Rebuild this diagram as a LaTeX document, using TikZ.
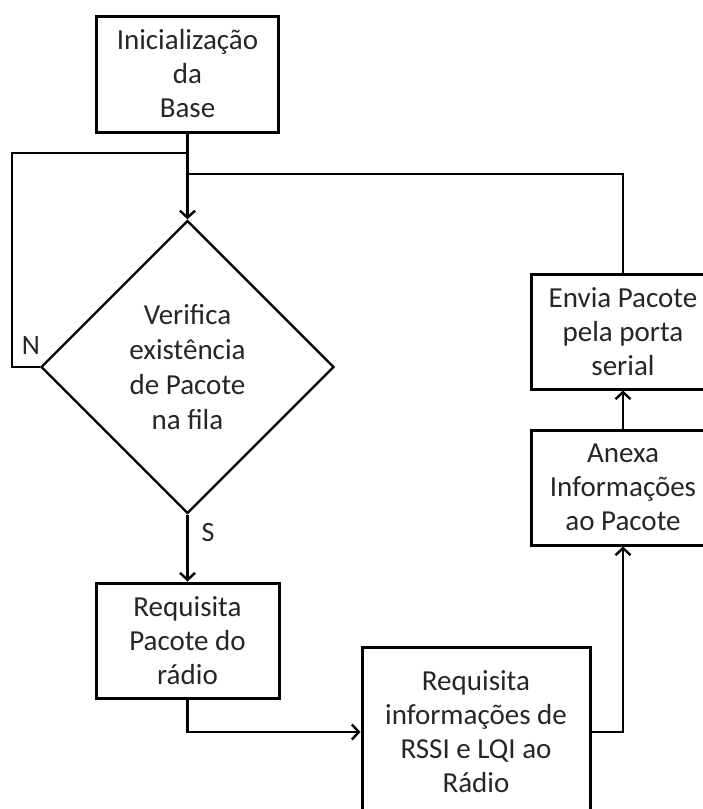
\documentclass[tikz,border=0pt]{standalone}
\usepackage{fontspec}
\setmainfont{Carlito}
\usetikzlibrary{arrows.meta,shapes.geometric}
\begin{document}
\begin{tikzpicture}[x=1pt,y=-1pt,
  box/.style={draw=black,line width=3pt,rectangle,inner sep=0pt,align=center,
    font=\fontsize{29}{34}\selectfont,text=black!85},
  dec/.style={draw=black,line width=2.4pt,diamond,aspect=1,inner sep=0pt,
    minimum width=293pt,minimum height=293pt,align=center,
    font=\fontsize{29}{35}\selectfont,text=black!85},
  conn/.style={draw=black,line width=2.8pt},
  arr/.style={conn,-{Straight Barb[length=7pt,width=15pt,line width=2.4pt]}},
  lbl/.style={font=\fontsize{28}{30}\selectfont,text=black!85,inner sep=0pt}
]
\useasboundingbox (0,0) rectangle (703,809);
\fill[white] (0,0) rectangle (703,809);
\begin{scope}
\clip (0,0) rectangle (703,809);
\node[box,minimum width=182pt,minimum height=116pt] (init) at (187.5,74) {Inicialização\\da\\Base};
\node[dec] (dec) at (187.5,367) {Verifica\\existência\\de Pacote\\na fila};
\node[box,minimum width=183pt,minimum height=115pt] (req) at (187.5,640.5) {Requisita\\Pacote do\\rádio};
\node[box,minimum width=228pt,minimum height=170pt] (rssi) at (476,732) {Requisita\\informações de\\RSSI e LQI ao\\Rádio};
\node[box,minimum width=184pt,minimum height=115pt] (anexa) at (623,487.5) {Anexa\\Informações\\ao Pacote};
\node[box,minimum width=184pt,minimum height=115pt] (envia) at (623,331.5) {Envia Pacote\\pela porta\\serial};
\coordinate (jN) at (187.5,153);
\coordinate (jR) at (187.5,174);
\coordinate (cNl) at (12,367);
\coordinate (cNt) at (12,153);
\coordinate (cR) at (623,174);
\coordinate (cReq) at (187.5,732);
\coordinate (cRssi) at (623,732);
\draw[arr] (init.south) -- (dec.north);
\draw[conn] (dec.west) -- (cNl) -- (cNt) -- (jN);
\draw[conn] (envia.north) -- (cR) -- (jR);
\draw[arr] (dec.south) -- (req.north);
\draw[arr] (req.south) -- (cReq) -- (rssi.west);
\draw[arr] (rssi.east) -- (cRssi) -- (anexa.south);
\draw[arr] (anexa.north) -- (envia.south);
\node[lbl] (n) at (31,346) {N};
\node[lbl] (s) at (208,533) {S};
\end{scope}
\end{tikzpicture}
\end{document}
